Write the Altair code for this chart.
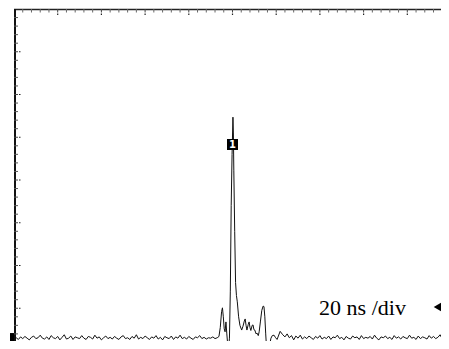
import altair as alt
import pandas as pd

# Oscilloscope trace, units: divisions (x: 10 div, y: 8 div)
PRE_Y = [
    0.28, 0.31, 0.27, 0.33, 0.29, 0.34, 0.30, 0.26, 0.32, 0.35,
    0.29, 0.31, 0.37, 0.30, 0.28, 0.33, 0.27, 0.36, 0.31, 0.29,
    0.34, 0.26, 0.32, 0.38, 0.28, 0.30, 0.35, 0.27, 0.33, 0.31,
    0.29, 0.36, 0.30, 0.27, 0.34, 0.32, 0.28, 0.37, 0.30, 0.33,
    0.26, 0.31, 0.35, 0.29, 0.32, 0.28, 0.34, 0.30, 0.27, 0.33,
    0.36, 0.29, 0.31, 0.27, 0.34, 0.30, 0.38, 0.28, 0.32, 0.29,
    0.35, 0.31, 0.27, 0.33, 0.30, 0.36, 0.28, 0.32, 0.26, 0.34,
    0.31, 0.29, 0.35, 0.27, 0.33, 0.30, 0.37, 0.29, 0.32, 0.28,
    0.34, 0.30, 0.27, 0.33, 0.31, 0.36, 0.29, 0.32, 0.28, 0.31,
    0.30, 0.33, 0.29,
]
PULSE_X = [
    4.65, 4.69, 4.72, 4.75, 4.77, 4.79, 4.81, 4.83, 4.85, 4.87,
    4.89, 4.91, 4.93, 4.95, 4.97, 4.99, 5.01, 5.02, 5.03, 5.05,
    5.07, 5.09, 5.11, 5.14, 5.17, 5.21, 5.24, 5.27, 5.29, 5.31,
    5.33, 5.36, 5.38, 5.40, 5.42, 5.45, 5.47, 5.49, 5.51, 5.54,
    5.56, 5.59, 5.61, 5.64, 5.67, 5.70, 5.72, 5.74, 5.76, 5.78,
    5.81, 5.84, 5.86, 5.88, 5.91, 5.95, 5.98, 6.02, 6.05, 6.09,
]
PULSE_Y = [
    0.31, 0.34, 0.55, 0.92, 1.01, 0.80, 0.52, 0.45, 0.68, 0.40,
    0.15, 0.07, 0.30, 1.40, 3.40, 4.60, 5.47, 5.10, 4.23, 2.80,
    1.60, 1.30, 1.15, 0.80, 0.60, 0.49, 0.58, 0.70, 0.75, 0.60,
    0.49, 0.62, 0.68, 0.55, 0.48, 0.60, 0.61, 0.50, 0.49, 0.40,
    0.42, 0.36, 0.45, 0.70, 0.95, 1.05, 1.04, 0.80, 0.40, 0.05,
    0.03, 0.04, 0.20, 0.30, 0.36, 0.37, 0.32, 0.27, 0.35, 0.46,
]
POST_Y = [
    0.38, 0.33, 0.40, 0.31, 0.36, 0.26, 0.35, 0.30, 0.37, 0.28,
    0.33, 0.29, 0.35, 0.31, 0.27, 0.34, 0.30, 0.36, 0.28, 0.32,
    0.29, 0.35, 0.27, 0.33, 0.31, 0.37, 0.29, 0.32, 0.26, 0.34,
    0.30, 0.28, 0.35, 0.31, 0.33, 0.27, 0.36, 0.29, 0.32, 0.30,
    0.34, 0.28, 0.37, 0.30, 0.26, 0.33, 0.31, 0.35, 0.29, 0.32,
    0.27, 0.36, 0.30, 0.33, 0.28, 0.34, 0.31, 0.29, 0.37, 0.30,
    0.32, 0.27, 0.35, 0.29, 0.33, 0.31, 0.28, 0.36, 0.30, 0.34,
    0.29, 0.32, 0.38, 0.28, 0.33, 0.30, 0.31,
]
PRE_START, STEP, POST_START = 0.0, 0.05, 6.15

LABEL = ["20 ns /div"]
LABEL_X = [7.975]
LABEL_Y = [0.84]
TRACE_MARK = [(5.0, 4.83)]     # channel "1" marker on trace
GROUND_LEVEL = [0.28]          # channel 1 ground marker
TRIGGER = [(9.69, 1.03)]       # trigger level arrow

pre_x = [round(PRE_START + STEP * i, 3) for i in range(len(PRE_Y))]
post_x = [round(POST_START + STEP * i, 3) for i in range(len(POST_Y))]
trace = pd.DataFrame({"t": pre_x + PULSE_X + post_x, "v": PRE_Y + PULSE_Y + POST_Y})

# visible part of the 10 x 8 division graticule
W, H = 427, 332
xs = alt.Scale(domain=[0, 9.771], nice=False, zero=False)
ys = alt.Scale(domain=[0.234, 8], nice=False, zero=False)


def X(f):
    return alt.X(f, type="quantitative", scale=xs, axis=None)


def Y(f):
    return alt.Y(f, type="quantitative", scale=ys, axis=None)


minor_x = [round(0.2 * i, 1) for i in range(1, 49) if i % 5]
major_x = [float(i) for i in range(1, 10)]
minor_y = [round(0.2 * i, 1) for i in range(2, 40) if i % 5]
major_y = [float(i) for i in range(1, 8)]

tx_min = pd.DataFrame({"x": minor_x})
tx_maj = pd.DataFrame({"x": major_x})
ty_min = pd.DataFrame({"y": minor_y})
ty_maj = pd.DataFrame({"y": major_y})

ink = "#111111"
one = pd.DataFrame({"a": [0]})
layers = []
# frame (top and left)
layers.append(alt.Chart(one).mark_rule(color="#222", strokeWidth=1.5).encode(
    x=alt.value(0), x2=alt.value(W), y=alt.value(0.5)))
layers.append(alt.Chart(one).mark_rule(color=ink, strokeWidth=2).encode(
    x=alt.value(1), y=alt.value(0), y2=alt.value(H)))
# top ticks
layers.append(alt.Chart(tx_min).mark_rule(color="#666", strokeWidth=1).encode(
    x=X("x"), y=alt.value(0), y2=alt.value(3.5)))
layers.append(alt.Chart(tx_maj).mark_rule(color="#444", strokeWidth=1).encode(
    x=X("x"), y=alt.value(0), y2=alt.value(3.5)))
layers.append(alt.Chart(tx_maj).mark_rule(color="#222", strokeWidth=1.2).encode(
    x=X("x"), y=alt.value(4.5), y2=alt.value(6)))
# left ticks
layers.append(alt.Chart(ty_min).mark_rule(color="#555", strokeWidth=1).encode(
    y=Y("y"), x=alt.value(0), x2=alt.value(4)))
layers.append(alt.Chart(ty_maj).mark_rule(color="#444", strokeWidth=1).encode(
    y=Y("y"), x=alt.value(0), x2=alt.value(4)))
layers.append(alt.Chart(ty_maj).mark_rule(color="#222", strokeWidth=1.2).encode(
    y=Y("y"), x=alt.value(5), x2=alt.value(6.5)))

# trace
layers.append(alt.Chart(trace).mark_line(color=ink, strokeWidth=1).encode(
    x=X("t"), y=Y("v")))

# trace marker "1"
tm = pd.DataFrame({"x": [p[0] for p in TRACE_MARK], "y": [p[1] for p in TRACE_MARK], "s": ["1"]})
layers.append(alt.Chart(tm).mark_square(color="black", opacity=1, size=121).encode(x=X("x"), y=Y("y")))
layers.append(alt.Chart(tm).mark_text(color="white", font="DejaVu Sans", fontSize=10, fontWeight="bold").encode(
    x=X("x"), y=Y("y"), text="s:N"))

# ground marker
gm = pd.DataFrame({"y": GROUND_LEVEL})
layers.append(alt.Chart(gm).mark_point(
    shape="M-0.33,-1L0.33,-1L0.33,1L-0.33,1Z", filled=True, color="black", opacity=1, size=144
).encode(x=alt.value(-2), y=Y("y")))

# trigger arrow
tr = pd.DataFrame({"x": [p[0] for p in TRIGGER], "y": [p[1] for p in TRIGGER]})
layers.append(alt.Chart(tr).mark_point(shape="triangle-left", filled=True, color="black", opacity=1, size=75).encode(
    x=X("x"), y=Y("y")))

# timebase label
lb = pd.DataFrame({"x": LABEL_X, "y": LABEL_Y, "s": LABEL})
layers.append(alt.Chart(lb).mark_text(font="Liberation Serif", fontSize=22, color="black",
                                      align="center", baseline="alphabetic").encode(
    x=X("x"), y=Y("y"), text="s:N"))

chart = alt.layer(*layers).properties(
    width=W, height=H,
    autosize=alt.AutoSizeParams(type="none"),
    padding={"left": 6, "top": 1, "right": 0, "bottom": 0},
    background="white",
).configure_view(stroke=None)

chart.save("out.html", embed_options={"renderer": "svg", "actions": False})
